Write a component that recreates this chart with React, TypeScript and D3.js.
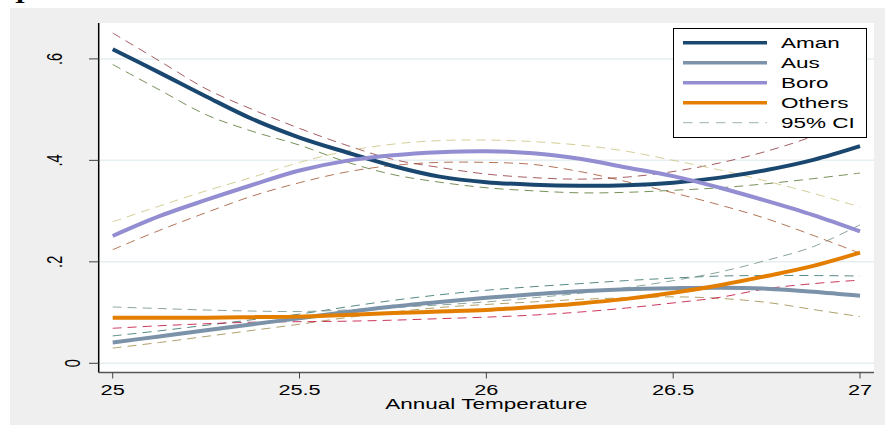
import React from "react";
import * as d3 from "d3";

const temps = [25, 25.125, 25.25, 25.375, 25.5, 25.625, 25.75, 25.875, 26, 26.125, 26.25, 26.375, 26.5, 26.625, 26.75, 26.875, 27];

const aman = [0.619, 0.573, 0.526, 0.481, 0.445, 0.416, 0.389, 0.368, 0.357, 0.352, 0.35, 0.351, 0.356, 0.366, 0.381, 0.401, 0.428];
const amanHi = [0.651, 0.596, 0.541, 0.5, 0.463, 0.43, 0.402, 0.386, 0.373, 0.366, 0.363, 0.367, 0.378, 0.395, 0.418, 0.448, 0.49];
const amanLo = [0.589, 0.539, 0.49, 0.457, 0.43, 0.397, 0.372, 0.357, 0.346, 0.34, 0.336, 0.337, 0.341, 0.346, 0.354, 0.364, 0.375];

const aus = [0.041, 0.053, 0.065, 0.077, 0.089, 0.101, 0.112, 0.121, 0.129, 0.136, 0.142, 0.146, 0.148, 0.149, 0.147, 0.141, 0.133];
const ausHi = [0.054, 0.064, 0.075, 0.086, 0.097, 0.111, 0.124, 0.135, 0.144, 0.151, 0.157, 0.163, 0.168, 0.172, 0.173, 0.173, 0.172];
const ausLo = [0.03, 0.041, 0.053, 0.065, 0.077, 0.09, 0.101, 0.11, 0.116, 0.121, 0.126, 0.129, 0.131, 0.128, 0.12, 0.106, 0.092];

const boro = [0.251, 0.29, 0.322, 0.352, 0.38, 0.399, 0.41, 0.416, 0.418, 0.414, 0.403, 0.386, 0.369, 0.346, 0.32, 0.292, 0.26];
const boroHi = [0.279, 0.31, 0.34, 0.367, 0.396, 0.418, 0.432, 0.439, 0.44, 0.437, 0.43, 0.418, 0.4, 0.381, 0.359, 0.335, 0.308];
const boroLo = [0.224, 0.262, 0.297, 0.33, 0.356, 0.377, 0.39, 0.396, 0.396, 0.392, 0.378, 0.358, 0.336, 0.312, 0.285, 0.252, 0.217];

const others = [0.09, 0.09, 0.09, 0.091, 0.092, 0.095, 0.099, 0.102, 0.105, 0.111, 0.118, 0.127, 0.139, 0.154, 0.172, 0.192, 0.218];
const othersHi = [0.111, 0.108, 0.105, 0.103, 0.102, 0.105, 0.11, 0.115, 0.121, 0.129, 0.138, 0.149, 0.163, 0.18, 0.203, 0.23, 0.273];
const othersLo = [0.069, 0.074, 0.078, 0.081, 0.082, 0.083, 0.085, 0.088, 0.091, 0.095, 0.101, 0.109, 0.119, 0.13, 0.147, 0.157, 0.164];

const xTicks = [25, 25.5, 26, 26.5, 27];
const xTickLabels = ["25", "25.5", "26", "26.5", "27"];
const yTicks = [0, 0.2, 0.4, 0.6];
const yTickLabels = ["0", ".2", ".4", ".6"];

const seriesNames = ["Aman", "Aus", "Boro", "Others"];
const seriesColors = ["#1a476f", "#7b92a8", "#938dd2", "#e37e00"];
const seriesValues = [aman, aus, boro, others];

const ciLines = [
  { values: amanHi, color: "#90353b" },
  { values: amanLo, color: "#55752f" },
  { values: ausHi, color: "#2d6d66" },
  { values: ausLo, color: "#9c8847" },
  { values: boroHi, color: "#cac27e" },
  { values: boroLo, color: "#a0522d" },
  { values: othersHi, color: "#6e8e84" },
  { values: othersLo, color: "#c10534" },
];
const ciLabel = "95% CI";
const xTitle = "Annual Temperature";

const FONT = "'Liberation Sans', Arial, Helvetica, sans-serif";

export default function App() {
  const W = 885;
  const H = 425;
  const x = d3.scaleLinear().domain([25, 27]).range([112.7, 860]);
  const y = d3.scaleLinear().domain([0, 0.6]).range([363.3, 58.9]);
  const plotL = 98.7, plotR = 874, plotT = 23, plotB = 372.5;

  const line = (vals: number[]) =>
    d3
      .line<number>()
      .x((_, i) => x(temps[i]))
      .y((v) => y(v))
      .curve(d3.curveCatmullRom.alpha(0.5))(vals) || "";

  const legX0 = 673.5, legY0 = 28.5, legW = 193, legH = 109;

  return (
    <div style={{ position: "absolute", left: 0, top: 0 }}>
      <svg width={W} height={H} style={{ display: "block" }}>
        <rect x={0} y={0} width={W} height={H} fill="#ffffff" />
        <text
          transform="translate(20,3) scale(1.5,1)"
          textAnchor="middle"
          fontFamily="'Liberation Serif', serif"
          fontWeight="bold"
          fontSize={18}
          fill="#000"
        >
          I
        </text>
        <rect x={10} y={8} width={W - 10} height={H - 8} fill="#efefef" />
        <rect x={plotL} y={plotT} width={plotR - plotL} height={plotB - plotT} fill="#ffffff" />
        {yTicks.map((t) => (
          <line key={"g" + t} x1={plotL} x2={plotR} y1={y(t)} y2={y(t)} stroke="#e5eef0" strokeWidth={1.5} />
        ))}
        {ciLines.map((c, i) => (
          <path key={"ci" + i} d={line(c.values)} fill="none" stroke={c.color} strokeWidth={1} strokeDasharray="9,6" strokeOpacity={0.8} />
        ))}
        {seriesValues.map((vals, i) => (
          <path key={"s" + i} d={line(vals)} fill="none" stroke={seriesColors[i]} strokeWidth={4} />
        ))}
        {/* axes */}
        <line x1={plotL} x2={plotL} y1={plotT} y2={plotB} stroke="#000" strokeWidth={1.5} />
        <line x1={plotL} x2={plotR} y1={plotB} y2={plotB} stroke="#555" strokeWidth={1.5} />
        {yTicks.map((t, i) => (
          <g key={"yt" + t}>
            <line x1={89} x2={plotL} y1={y(t)} y2={y(t)} stroke="#444" strokeWidth={1} />
            <text
              transform={`translate(${t === 0 ? 80 : 62},${y(t)}) scale(1.5,1) rotate(-90)`}
              textAnchor="middle"
              fontFamily={FONT}
              fontSize={14.5}
              fill="#000"
            >
              {yTickLabels[i]}
            </text>
          </g>
        ))}
        {xTicks.map((t, i) => (
          <g key={"xt" + t}>
            <line x1={x(t)} x2={x(t)} y1={plotB} y2={plotB + 6} stroke="#444" strokeWidth={1} />
            <text
              transform={`translate(${x(t)},395) scale(1.5,1)`}
              textAnchor="middle"
              fontFamily={FONT}
              fontSize={14.5}
              fill="#000"
            >
              {xTickLabels[i]}
            </text>
          </g>
        ))}
        <text
          transform={`translate(${x(26)},409) scale(1.5,1)`}
          textAnchor="middle"
          fontFamily={FONT}
          fontSize={15}
          fill="#000"
        >
          {xTitle}
        </text>
        {/* legend */}
        <rect x={legX0} y={legY0} width={legW} height={legH} fill="#ffffff" stroke="#000" strokeWidth={1} />
        {seriesNames.map((n, i) => (
          <g key={"lg" + n}>
            <line x1={683} x2={767} y1={42.7 + 20 * i} y2={42.7 + 20 * i} stroke={seriesColors[i]} strokeWidth={3.5} />
            <text transform={`translate(781,${48.3 + 20 * i}) scale(1.5,1)`} fontFamily={FONT} fontSize={15} fill="#000">
              {n}
            </text>
          </g>
        ))}
        <line x1={683} x2={767} y1={42.7 + 80} y2={42.7 + 80} stroke="#6e8e84" strokeOpacity={0.55} strokeWidth={1.2} strokeDasharray="9.5,7" />
        <text transform={`translate(781,${48.3 + 80}) scale(1.5,1)`} fontFamily={FONT} fontSize={15} fill="#000">
          {ciLabel}
        </text>
      </svg>
    </div>
  );
}
